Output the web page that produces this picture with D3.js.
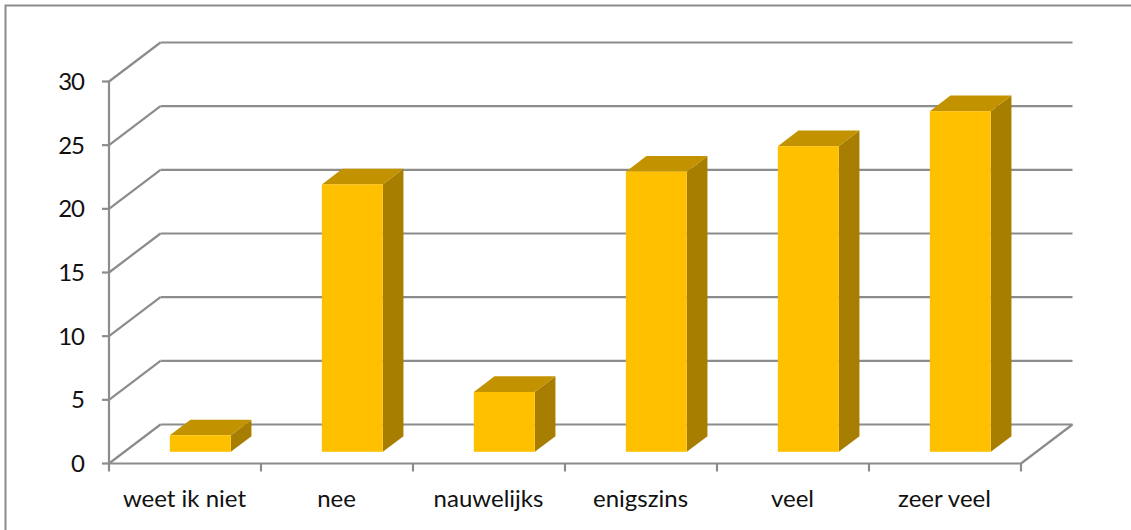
<!DOCTYPE html>
<html><head><meta charset="utf-8">
<script src="https://cdn.jsdelivr.net/npm/d3@7"></script>
<style>html,body{margin:0;padding:0;background:#fff}svg{display:block}</style>
</head><body><svg id="c" width="1131" height="530"></svg>
<script>
const categories = ["weet ik niet","nee","nauwelijks","enigszins","veel","zeer veel"];
const values = [1.3,21,4.7,22,24,26.75];
const yTicks = [0,5,10,15,20,25,30];
const svg = d3.select("#c");
const x = d3.scaleBand().domain(categories).range([109,1021]);
const y = d3.scaleLinear().domain([0,30]).range([463.5,81.5]);
const dx = d3.scaleLinear().domain([0,1]).range([0,51.5]);
const dy = d3.scaleLinear().domain([0,1]).range([0,-39]);
const grey = "#8c8c8c";
const font = "Lato,'Open Sans',sans-serif";
const line = (x1,y1,x2,y2,w=2.2)=>svg.append("line").attr("x1",x1).attr("y1",y1).attr("x2",x2).attr("y2",y2).attr("stroke",grey).attr("stroke-width",w);
svg.append("path").attr("d","M5.5,530V5.5H1131").attr("fill","none").attr("stroke",grey).attr("stroke-width",2);
yTicks.forEach(t=>{
  line(x.range()[0],y(t),x.range()[0]+dx(1),y(t)+dy(1));
  line(x.range()[0]+dx(1),y(t)+dy(1),x.range()[1]+dx(1),y(t)+dy(1));
  line(x.range()[0]-7,y(t),x.range()[0],y(t));
  svg.append("text").attr("x",84).attr("y",y(t)+8.5).attr("text-anchor","end")
    .attr("font-family",font).attr("font-size",24).attr("letter-spacing",-1).attr("fill","#111").text(t);
});
line(x.range()[0],y(0),x.range()[0],y(30));
line(x.range()[0],y(0),x.range()[1],y(0));
line(x.range()[1],y(0),x.range()[1]+dx(1),y(0)+dy(1));
[...categories.map(c=>x(c)),x.range()[1]].forEach(v=>line(v,y(0),v,y(0)+8));
categories.forEach(c=>{
  svg.append("text").attr("x",x(c)+x.bandwidth()/2-0.5).attr("y",507).attr("text-anchor","middle")
    .attr("font-family",font).attr("font-size",24).attr("fill","#111").text(c);
});
const fr=.3, bk=.7;
categories.forEach((c,i)=>{
  const l=x(c)+x.bandwidth()/2-30.6+dx(fr), r=l+61;
  const b=y(0)+dy(fr), t=y(values[i])+dy(fr);
  const ox=dx(bk)-dx(fr), oy=dy(bk)-dy(fr);
  const g=svg.append("g");
  g.append("path").attr("fill","#a87e00").attr("d",`M${r},${t}L${r+ox},${t+oy}L${r+ox},${b+oy}L${r},${b}Z`);
  g.append("path").attr("fill","#c39200").attr("d",`M${l},${t}L${l+ox},${t+oy}L${r+ox},${t+oy}L${r},${t}Z`);
  g.append("rect").attr("x",l).attr("y",t).attr("width",61).attr("height",b-t).attr("fill","#ffc000");
});
</script></body></html>
